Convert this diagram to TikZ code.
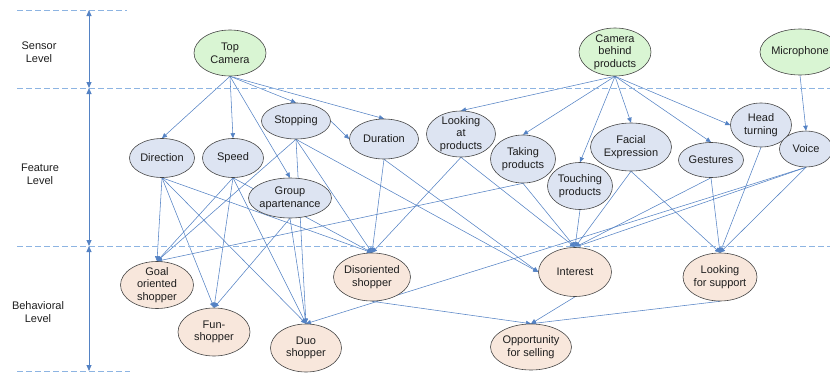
\documentclass[tikz,border=0pt]{standalone}
\usepackage{fontspec}
\setmainfont{Liberation Sans}
\usetikzlibrary{shapes.geometric,arrows.meta}
\pgfdeclarelayer{bg}
\pgfsetlayers{bg,main}
\definecolor{sensorfill}{RGB}{217,245,211}
\definecolor{featfill}{RGB}{221,228,242}
\definecolor{behfill}{RGB}{248,231,220}
\definecolor{edgeblue}{RGB}{84,130,196}
\definecolor{dashblue}{RGB}{141,180,226}
\definecolor{rimgray}{RGB}{70,70,70}
\definecolor{txt}{RGB}{30,30,30}
\begin{document}
\begin{tikzpicture}[x=1pt,y=-1pt,
  every node/.style={font=\fontsize{11}{12.7}\selectfont, text=txt, align=center},
  blob/.style={ellipse, draw=rimgray, line width=0.6pt, inner xsep=-2pt, inner ysep=-4pt},
  sensor/.style={blob, fill=sensorfill},
  feat/.style={blob, fill=featfill},
  beh/.style={blob, fill=behfill},
  link/.style={draw=edgeblue, line width=0.55pt, -{Triangle[length=5pt,width=4.5pt]}},
  levelline/.style={draw=dashblue, line width=0.9pt, dash pattern=on 6pt off 3pt},
  levelarrow/.style={draw=edgeblue, line width=0.8pt, {Triangle[length=6pt,width=5pt]}-{Triangle[length=6pt,width=5pt]}},
  levellabel/.style={text=txt}
]
\useasboundingbox (0,0) rectangle (830,375);
\clip (0,0) rectangle (830,375);

% level separators
\coordinate (l0a) at (17,10);  \coordinate (l0b) at (127,10);
\coordinate (l1a) at (17,88);  \coordinate (l1b) at (830,88);
\coordinate (l2a) at (17,246); \coordinate (l2b) at (830,246);
\coordinate (l3a) at (17,371); \coordinate (l3b) at (130,371);
\draw[levelline] (l0a) -- (l0b);
\draw[levelline] (l1a) -- (l1b);
\draw[levelline] (l2a) -- (l2b);
\draw[levelline] (l3a) -- (l3b);

\coordinate (v0) at (89,10);
\coordinate (v1) at (89,88);
\coordinate (v2) at (89,246);
\coordinate (v3) at (89,371);
\draw[levelarrow] (v0) -- (v1);
\draw[levelarrow] (v1) -- (v2);
\draw[levelarrow] (v2) -- (v3);

\node[levellabel] (lsens) at (39,52) {Sensor\\Level};
\node[levellabel] (lfeat) at (40,174) {Feature\\Level};
\node[levellabel] (lbeh) at (38,312) {Behavioral\\Level};

% sensor level
\node[sensor, minimum width=72pt, minimum height=46pt] (tc) at (230,53) {Top\\Camera};
\node[sensor, minimum width=72pt, minimum height=48pt] (cbp) at (615,52) {Camera\\behind\\products};
\node[sensor, minimum width=80pt, minimum height=46pt] (mic) at (800,52) {Microphone};

% feature level
\node[feat, minimum width=65pt, minimum height=39pt] (dir) at (162,158) {Direction};
\node[feat, minimum width=61pt, minimum height=39pt] (spd) at (233,158) {Speed};
\node[feat, minimum width=69pt, minimum height=36pt] (stop) at (296,121) {Stopping};
\node[feat, minimum width=69pt, minimum height=40pt] (dur) at (384,139) {Duration};
\node[feat, minimum width=69pt, minimum height=46pt] (look) at (461,134) {Looking\\at\\products};
\node[feat, minimum width=65pt, minimum height=48pt] (take) at (523,159) {Taking\\products};
\node[feat, minimum width=65pt, minimum height=47pt] (touch) at (580,186) {Touching\\products};
\node[feat, minimum width=81pt, minimum height=48pt] (facial) at (631,147) {Facial\\Expression};
\node[feat, minimum width=65pt, minimum height=35pt] (gest) at (711,160) {Gestures};
\node[feat, minimum width=61pt, minimum height=44pt] (head) at (761,125) {Head\\turning};
\node[feat, minimum width=53pt, minimum height=36pt] (voice) at (806,149) {Voice};
\node[feat, minimum width=83pt, minimum height=40pt] (group) at (290,198) {Group\\apartenance};

% behavioral level
\node[beh, minimum width=73pt, minimum height=47pt] (goal) at (157,285) {Goal\\oriented\\shopper};
\node[beh, minimum width=72pt, minimum height=48pt] (fun) at (214,332) {Fun-\\shopper};
\node[beh, minimum width=71pt, minimum height=48pt] (duo) at (306,348) {Duo\\shopper};
\node[beh, minimum width=77pt, minimum height=48pt] (dis) at (372,277) {Disoriented\\shopper};
\node[beh, minimum width=73pt, minimum height=49pt] (int) at (575,272) {Interest};
\node[beh, minimum width=74pt, minimum height=48pt] (lfs) at (720,277) {Looking\\for support};
\node[beh, minimum width=81pt, minimum height=46pt] (opp) at (531,347) {Opportunity\\for selling};

\begin{pgfonlayer}{bg}
% sensor -> feature
\foreach \t in {dir,spd,stop,dur,group} \draw[link] (tc.south) -- (\t.north);
\draw[link] (stop.east) -- (dur.west);
\foreach \t in {look,take,touch,facial,gest} \draw[link] (cbp.south) -- (\t.north);
\draw[link] (cbp.south) -- (head.west);
\draw[link] (mic.south) -- (voice.north);
% feature -> behavioral
\foreach \t in {goal,fun,duo,dis} \draw[link] (dir.south) -- (\t.north);
\foreach \t in {goal,fun,duo,dis} \draw[link] (spd.south) -- (\t.north);
\foreach \t in {goal,duo,dis} \draw[link] (stop.south) -- (\t.north);
\draw[link] (stop.south) -- (int.west);
\foreach \t in {fun,duo} \draw[link] (group.south) -- (\t.north);
\draw[link] (dur.south) -- (dis.north);
\draw[link] (dur.south) -- (int.west);
\foreach \t in {dis,int} \draw[link] (look.south) -- (\t.north);
\foreach \t in {goal,int} \draw[link] (take.south) -- (\t.north);
\draw[link] (touch.south) -- (int.north);
\foreach \t in {int,lfs} \draw[link] (facial.south) -- (\t.north);
\foreach \t in {int,lfs} \draw[link] (gest.south) -- (\t.north);
\draw[link] (head.south) -- (lfs.north);
\foreach \t in {int,lfs,duo} \draw[link] (voice.south) -- (\t.north);
% behavioral -> opportunity
\foreach \s in {dis,int,lfs} \draw[link] (\s.south) -- (opp.north);
\end{pgfonlayer}
\end{tikzpicture}
\end{document}
